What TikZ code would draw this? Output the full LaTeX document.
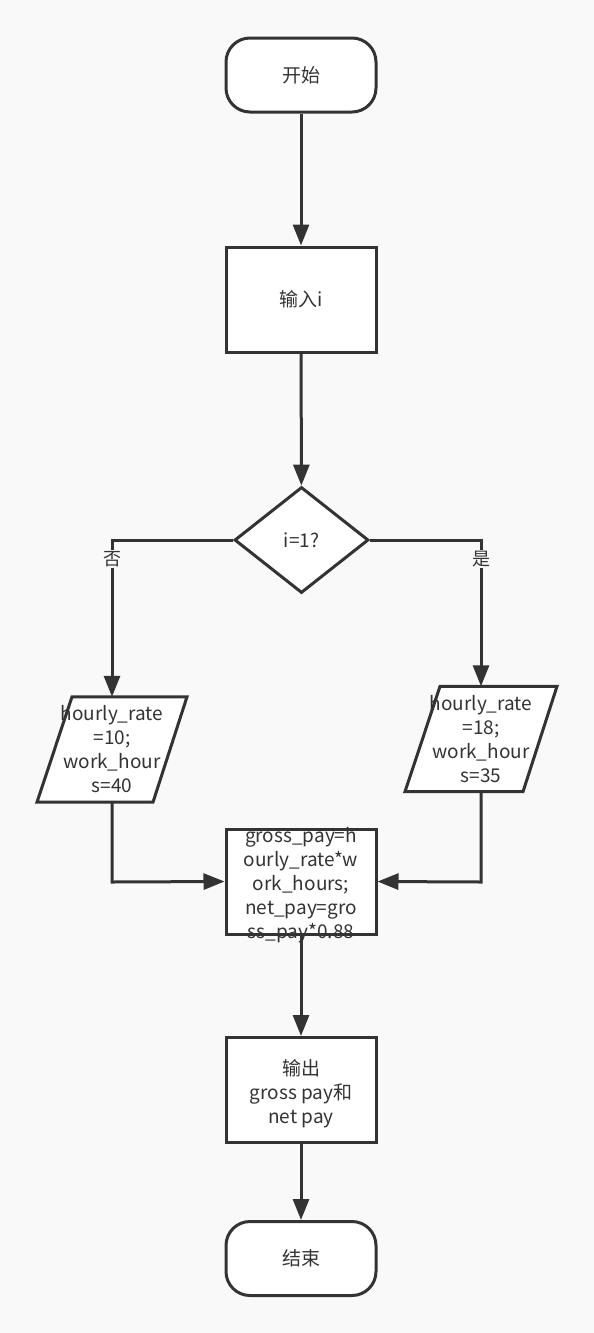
\documentclass[tikz,border=0pt]{standalone}
\usepackage{fontspec}
\setmainfont{Noto Sans CJK SC}
\usetikzlibrary{arrows.meta,shapes.geometric}
\definecolor{bg}{HTML}{F9F9F9}
\definecolor{ln}{HTML}{333333}
\begin{document}
\begin{tikzpicture}[x=1pt,y=-1pt,
  every node/.style={font=\fontsize{19}{24}\selectfont, text=ln, align=center},
  shp/.style={draw=ln, line width=3pt, fill=white},
  term/.style={shp, rounded corners=24pt, minimum width=150pt, minimum height=74pt, inner sep=0pt},
  proc/.style={shp, minimum width=150pt, minimum height=105pt, inner sep=0pt},
  dec/.style={shp, diamond, minimum width=134pt, minimum height=106pt, aspect=1.264, inner sep=0pt},
  box/.style={minimum width=116pt, minimum height=105pt, inner sep=0pt},
  conn/.style={draw=ln, line width=3pt, -{Triangle[length=21pt,width=16pt]}},
  lbl/.style={fill=bg, inner sep=1pt, font=\fontsize{18}{20}\selectfont}]
\fill[bg] (0,0) rectangle (594,1333);
\useasboundingbox (0,0) rectangle (594,1333);

\node[term] (start) at (301,75) {开始};
\node[proc] (inp) at (301,299.5) {输入i};
\node[dec] (cond) at (301.5,540) {i=1?};

% parallelograms
\node[box] (L) at (112,749.5) {};
\draw[shp] ([xshift=-40pt]L.north) -- ([xshift=75pt]L.north) -- ([xshift=41pt]L.south) -- ([xshift=-75pt]L.south) -- cycle;
\node (Lt) at (L.center) {hourly\_rate\\=10;\\work\_hour\\s=40};

\node[box] (R) at (481,739) {};
\draw[shp] ([xshift=-41pt]R.north) -- ([xshift=76pt]R.north) -- ([xshift=42pt]R.south) -- ([xshift=-76pt]R.south) -- cycle;
\node (Rt) at (R.center) {hourly\_rate\\=18;\\work\_hour\\s=35};

\node[proc] (calc) at (301,881.5) {};
\node (calct) at (301,885) {gross\_pay=h\\ourly\_rate*w\\ork\_hours;\\net\_pay=gro\\ss\_pay*0.88};

\node[proc] (out) at (301,1090) {};
\node (outt) at (301,1094) {输出\\gross pay和\\net pay};
\node[term] (stop) at (301,1258.5) {结束};

\coordinate (lc) at (112,540);
\coordinate (rc) at (481,540);
\coordinate (lb) at (112,882);
\coordinate (rb) at (481,882);

\draw[conn] (start) -- (inp);
\draw[conn] (inp) -- (cond);
\draw[conn] (cond.west) -- (lc) -- (L.north);
\draw[conn] (cond.east) -- (rc) -- (R.north);
\node[lbl] (no) at (112,559) {否};
\node[lbl] (yes) at (481,559) {是};
\draw[conn] (L.south) -- (lb) -- (calc.west);
\draw[conn] (R.south) -- (rb) -- (calc.east);
\draw[conn] (calc) -- (out);
\draw[conn] (out) -- (stop);
\end{tikzpicture}
\end{document}
